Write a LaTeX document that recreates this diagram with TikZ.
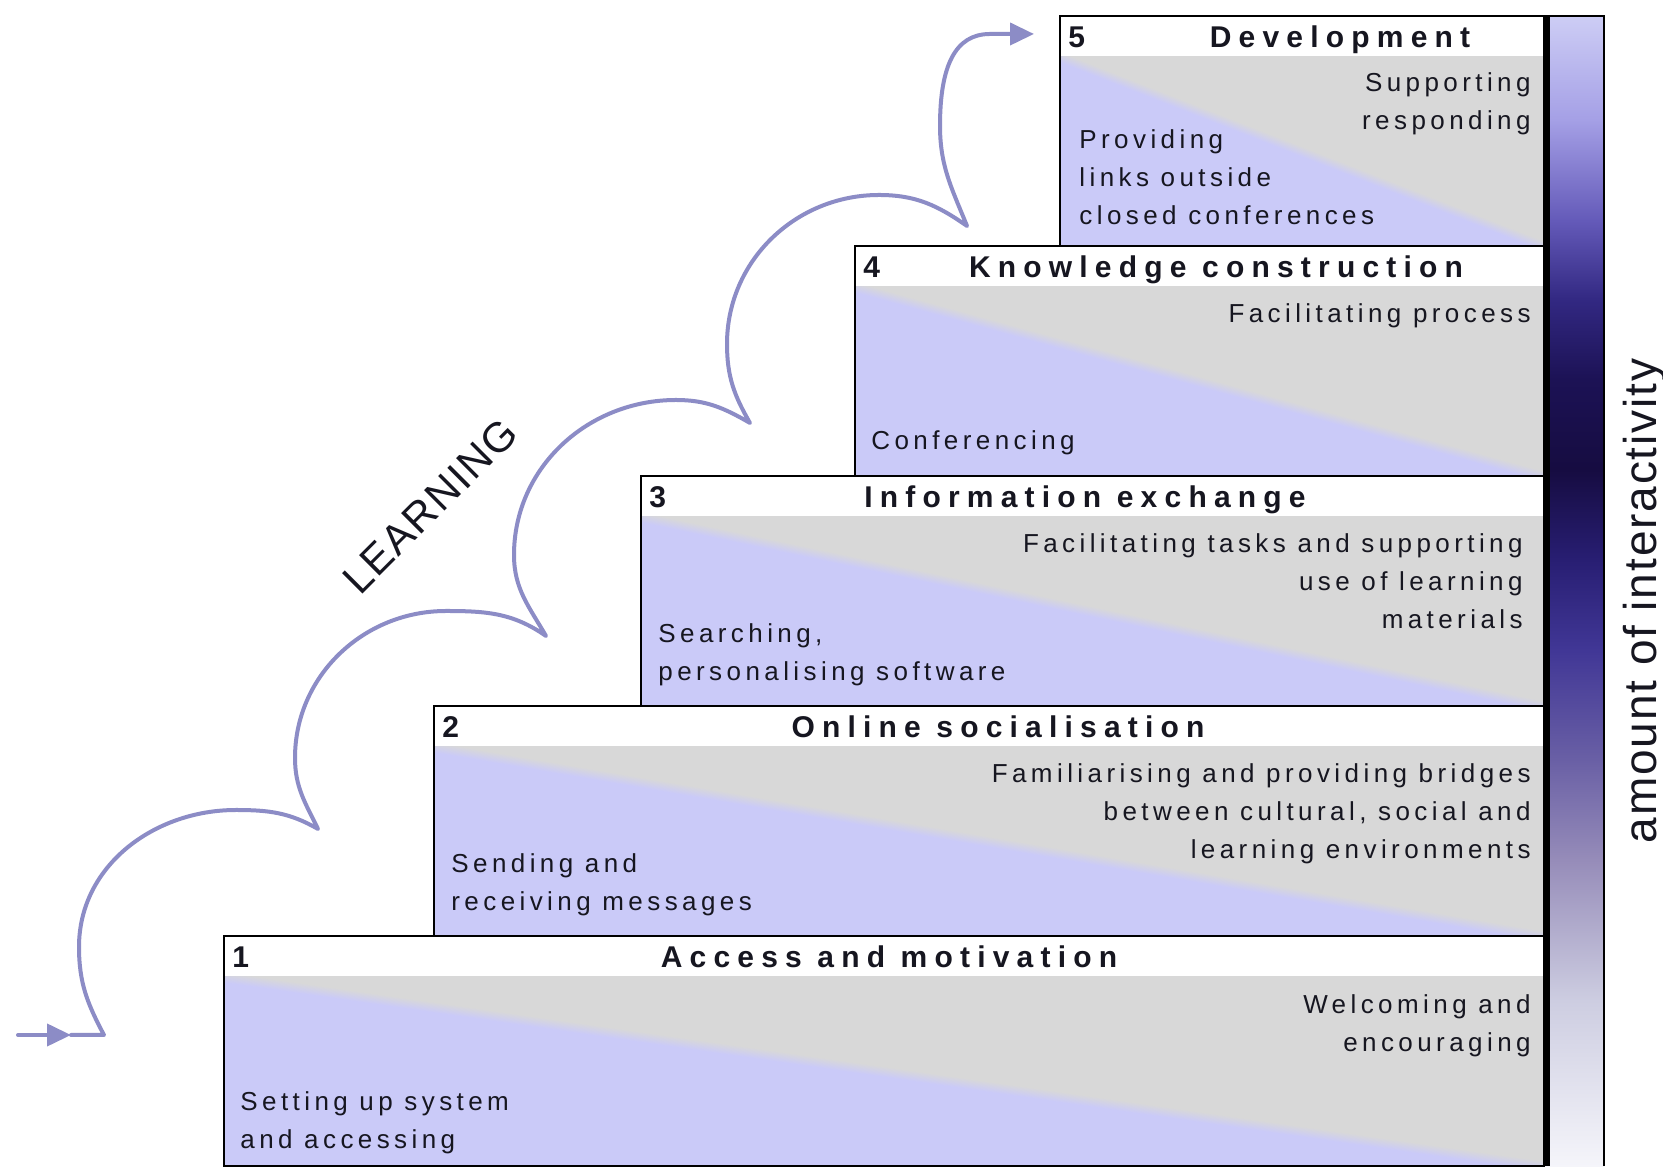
\documentclass[tikz,border=0pt]{standalone}
\usepackage{fontspec}
\setmainfont{Liberation Sans}
\newfontfamily\trackedfont{Liberation Sans}[LetterSpace=17]
\newfontfamily\headfont{Liberation Sans}[LetterSpace=24]
\newfontfamily\labelfont{Liberation Sans}[LetterSpace=4]
\usetikzlibrary{arrows.meta}

\definecolor{lav}{RGB}{202,202,248}
\definecolor{paleg}{RGB}{216,216,216}
\definecolor{flowc}{RGB}{140,140,198}
\definecolor{ink}{RGB}{22,22,32}
% colour stops of the interactivity bar, bottom to top
\definecolor{barA}{RGB}{245,245,250}
\definecolor{barB}{RGB}{205,205,225}
\definecolor{barC}{RGB}{150,140,185}
\definecolor{barD}{RGB}{105,95,165}
\definecolor{barE}{RGB}{65,55,150}
\definecolor{barF}{RGB}{40,30,115}
\definecolor{barG}{RGB}{22,12,65}
\definecolor{barH}{RGB}{28,18,85}
\definecolor{barI}{RGB}{50,40,130}
\definecolor{barJ}{RGB}{100,90,185}
\definecolor{barK}{RGB}{165,160,230}
\definecolor{barL}{RGB}{205,205,245}

% lavender below the diagonal, grey above it, with a soft seam
\pgfdeclareverticalshading{stagesplit}{100bp}{color(0bp)=(lav); color(49bp)=(lav); color(51bp)=(paleg); color(100bp)=(paleg)}
\pgfdeclareverticalshading{interact}{100bp}{color(0bp)=(barA); color(25bp)=(barA); color(32.2bp)=(barB); color(38.3bp)=(barC); color(42.7bp)=(barD); color(47.4bp)=(barE); color(51.35bp)=(barF); color(55.3bp)=(barG); color(59.2bp)=(barH); color(62.65bp)=(barI); color(66.1bp)=(barJ); color(70.5bp)=(barK); color(75bp)=(barL); color(100bp)=(barL)}

\begin{document}
\begin{tikzpicture}[x=0.5pt,y=0.5pt,
  boxedge/.style={draw=black, line width=1.4pt},
  stagefill/.style={shading=stagesplit, shading angle=-45},
  hd/.style={font=\headfont\bfseries\fontsize{15}{18}\selectfont, text=ink, inner sep=0pt},
  bodytext/.style={font=\trackedfont\fontsize{13}{19}\selectfont, text=ink, inner sep=0pt},
  rtext/.style={bodytext, align=right, anchor=north east},
  ltext/.style={bodytext, align=left, anchor=north west},
  flow/.style={draw=flowc, line width=2pt, line cap=round, line join=round},
  tipR/.style={-{Triangle[length=12pt,width=11pt]}}
]
\useasboundingbox (0,0) rectangle (1663,1166);
\fill[white] (0,0) rectangle (1663,1166);

% interactivity bar
\shade[shading=interact] (1544,0) rectangle (1604,1150);

% stage boxes: white title band over a split panel; the panel is shaded
% as a square and stretched so the seam runs corner to corner
\foreach \l/\b in {224/0, 434/230, 641/460, 855/690, 1060/920} {
  \fill[white] (\l,\b+189) rectangle (1544,\b+230);
  \begin{scope}[transform canvas={xscale={(1544-\l)/100}, yscale=1.89}]
    \shade[stagefill] ({\l/(1544-\l)*100},{\b/1.89}) rectangle +(100,100);
  \end{scope}
}
\foreach \l/\b in {224/0, 434/230, 641/460, 855/690, 1060/920} {
  \draw[boxedge] (\l,\b) rectangle (1544,\b+230);
}
\draw[line width=1.2pt] (1544,0) -- (1544,1150) -- (1604,1150) -- (1604,0);
\draw[line width=2.6pt] (1547,0) -- (1547,1151);

% stage titles
\node[hd, anchor=base west] (n1) at (232,198) {1};
\node[hd, anchor=base] (h1) at (889,198) {Access and motivation};
\node[hd, anchor=base west] (n2) at (442,428) {2};
\node[hd, anchor=base] (h2) at (998,428) {Online socialisation};
\node[hd, anchor=base west] (n3) at (649,658) {3};
\node[hd, anchor=base] (h3) at (1085,658) {Information exchange};
\node[hd, anchor=base west] (n4) at (863,888) {4};
\node[hd, anchor=base] (h4) at (1216,888) {Knowledge construction};
\node[hd, anchor=base west] (n5) at (1068,1118) {5};
\node[hd, anchor=base] (h5) at (1340,1118) {Development};

% stage texts
\node[rtext] (r5) at (1531,1094) {Supporting\\responding};
\node[ltext] (l5) at (1079,1037) {Providing\\links outside\\closed conferences};
\node[rtext] (r4) at (1531,863) {Facilitating process};
\node[ltext] (l4) at (871,736) {Conferencing};
\node[rtext] (r3) at (1523,633) {Facilitating tasks and supporting\\use of learning\\materials};
\node[ltext] (l3) at (658,543) {Searching,\\personalising software};
\node[rtext] (r2) at (1531,403) {Familiarising and providing bridges\\between cultural, social and\\learning environments};
\node[ltext] (l2) at (451,313) {Sending and\\receiving messages};
\node[rtext] (r1) at (1531,172) {Welcoming and\\encouraging};
\node[ltext] (l1) at (240,75) {Setting up system\\and accessing};

% side label
\node[rotate=90, anchor=base, inner sep=0pt, text=ink,
      font=\labelfont\fontsize{23}{27}\selectfont] (side) at (1656,565) {amount of interactivity};

% learning path
\coordinate (a0) at (18,131);
\coordinate (a1) at (71,131);
\coordinate (c0) at (104,131);
\coordinate (p1) at (79,219);   \coordinate (t1) at (236,356);  \coordinate (c1) at (318,337);
\coordinate (p2) at (295,408);  \coordinate (t2) at (446,555);  \coordinate (c2) at (546,530);
\coordinate (p3) at (514,611);  \coordinate (t3) at (676,766);  \coordinate (c3) at (750,743);
\coordinate (p4) at (727,822);  \coordinate (t4) at (879,971);  \coordinate (c4) at (967,940);
\coordinate (p5) at (940,1040); \coordinate (t5) at (990,1132); \coordinate (tip) at (1034,1132);

\draw[flow, tipR] (a0) -- (a1);
\draw[flow, tipR] (a1) -- (c0)
  to[out=118,in=-90] (p1) to[out=90,in=180] (t1) to[out=0,in=150] (c1)
  to[out=116,in=-90] (p2) to[out=90,in=180] (t2) to[out=0,in=145] (c2)
  to[out=120,in=-90] (p3) to[out=90,in=180] (t3) to[out=0,in=150] (c3)
  to[out=120,in=-90] (p4) to[out=90,in=180] (t4) to[out=0,in=145] (c4)
  to[out=112,in=-90] (p5) .. controls (940,1100) and (955,1132) .. (t5) -- (tip);

\node[rotate=45, text=ink, inner sep=0pt,
      font=\labelfont\fontsize{21}{25}\selectfont] (learn) at (430,660) {LEARNING};
\end{tikzpicture}
\end{document}
